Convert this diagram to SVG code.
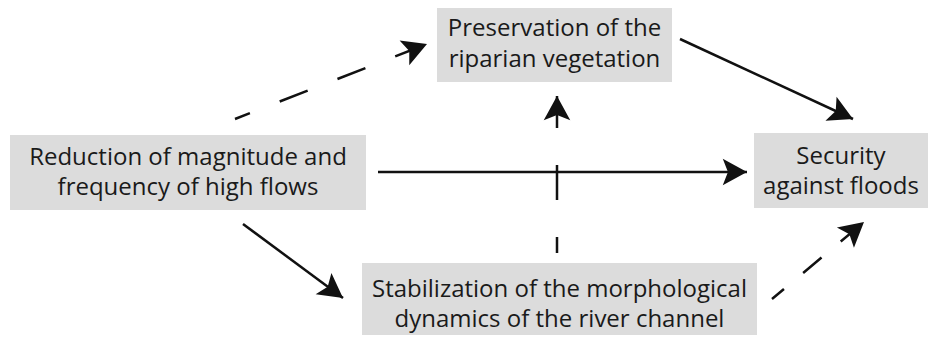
<svg xmlns="http://www.w3.org/2000/svg" width="932" height="337" viewBox="0 0 932 337">
  <style>
    .box { fill: #dcdcdc; }
    .label { font-family: "Open Sans", "Noto Sans", "Liberation Sans", sans-serif; font-size: 24px; fill: #1a1a1a; text-anchor: middle; }
    .link { stroke: #111; stroke-width: 2.5; fill: none; marker-end: url(#head); }
  </style>
  <defs>
    <marker id="head" markerUnits="userSpaceOnUse" markerWidth="30" markerHeight="30" viewBox="-24 -13 26 26" refX="0" refY="0" orient="auto">
      <path d="M0,0 L-21,-11.5 L-16.5,0 L-21,11.5 Z" fill="#111"/>
    </marker>
  </defs>

  <rect width="932" height="337" fill="#ffffff"/>

  <g id="node-reduction">
    <rect class="box" x="10" y="135" width="356" height="75"/>
    <text class="label" x="188" y="165">Reduction of magnitude and</text>
    <text class="label" x="188" y="195">frequency of high flows</text>
  </g>

  <g id="node-preservation">
    <rect class="box" x="437" y="8" width="235" height="74"/>
    <text class="label" x="554.5" y="36">Preservation of the</text>
    <text class="label" x="554.5" y="67">riparian vegetation</text>
  </g>

  <g id="node-security">
    <rect class="box" x="754" y="133" width="174" height="75"/>
    <text class="label" x="841" y="164">Security</text>
    <text class="label" x="841" y="194">against floods</text>
  </g>

  <g id="node-stabilization">
    <rect class="box" x="362" y="263" width="395" height="72"/>
    <text class="label" x="559.5" y="297">Stabilization of the morphological</text>
    <text class="label" x="559.5" y="327">dynamics of the river channel</text>
  </g>

  <g id="connectors">
    <!-- dashed: reduction -> preservation -->
    <path class="link" d="M235,119 L427,44" stroke-dasharray="30 32" stroke-dashoffset="14"/>
    <!-- solid: preservation -> security -->
    <path class="link" d="M680,39 L853,119"/>
    <!-- solid: reduction -> security -->
    <path class="link" d="M378,172 L747,172"/>
    <!-- dashed: stabilization -> preservation -->
    <path class="link" d="M557,253 L557,96" stroke-dasharray="35 37" stroke-dashoffset="19"/>
    <!-- solid: reduction -> stabilization -->
    <path class="link" d="M243,224 L343,298"/>
    <!-- dashed: stabilization -> security -->
    <path class="link" d="M772,299 L864,222" stroke-dasharray="24 25" stroke-dashoffset="8.4"/>
  </g>
</svg>
